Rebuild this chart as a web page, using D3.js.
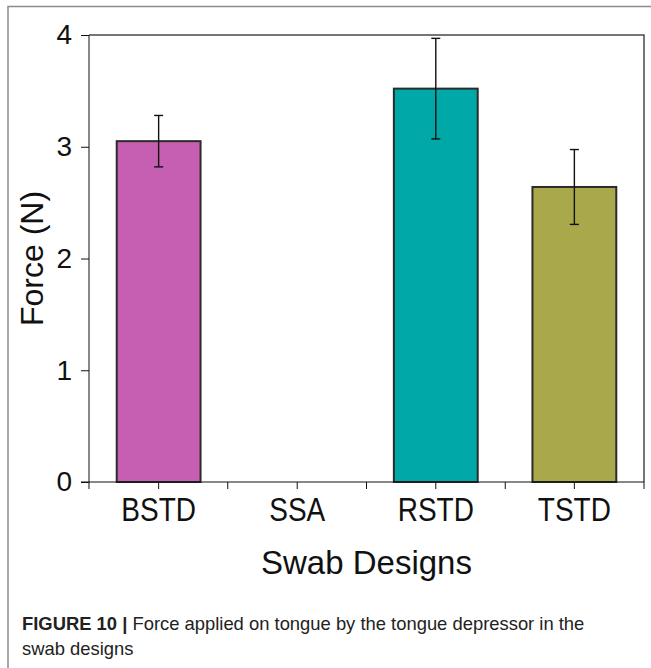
<!DOCTYPE html>
<html>
<head>
<meta charset="utf-8">
<script src="https://cdn.jsdelivr.net/npm/d3@7"></script>
<style>
  body { margin: 0; background: #fff; }
  svg { display: block; font-family: "Liberation Sans", Arial, sans-serif; }
</style>
</head>
<body>
<div id="chart"></div>
<script>
var designs = ["BSTD", "SSA", "RSTD", "TSTD"];
var force = [3.05, 0, 3.52, 2.64];
var forceErr = [0.23, 0, 0.45, 0.335];
var barColors = ["#c65fb1", "#ffffff", "#00a9a8", "#a9a84b"];
var yTicks = [0, 1, 2, 3, 4];

var width = 651, height = 668;
var margin = {top: 35, right: 7, bottom: 186, left: 89};

var svg = d3.select("#chart").append("svg")
    .attr("width", width)
    .attr("height", height);

// outer figure frame (top + left only)
svg.append("path")
    .attr("d", "M8,668V6.5H651")
    .attr("fill", "none")
    .attr("stroke", "#8a8a8a")
    .attr("stroke-width", 1.5);

var x = d3.scaleBand()
    .domain(designs)
    .range([margin.left, width - margin.right])
    .paddingInner(0.395)
    .paddingOuter(0.2);

var y = d3.scaleLinear()
    .domain([0, 4])
    .range([height - margin.bottom, margin.top]);

var x0 = margin.left, x1 = width - margin.right;
var yb = y(0), yt = y(4);

// plot box top + right
svg.append("path")
    .attr("d", `M${x0},${yt}H${x1}V${yb}`)
    .attr("fill", "none")
    .attr("stroke", "#4a4a4a")
    .attr("stroke-width", 1.5);

var data = designs.map(function(d, i) {
  return {name: d, value: force[i], err: forceErr[i], color: barColors[i]};
}).filter(function(d) { return d.value > 0; });

svg.append("g")
  .selectAll("rect")
  .data(data)
  .enter().append("rect")
    .attr("x", d => x(d.name))
    .attr("y", d => y(d.value))
    .attr("width", x.bandwidth())
    .attr("height", d => y(0) - y(d.value))
    .attr("fill", d => d.color)
    .attr("stroke", "#2b2b2b")
    .attr("stroke-width", 2);

// error bars
var eb = svg.append("g")
    .attr("stroke", "#111")
    .attr("stroke-width", 1.4);

eb.selectAll("line.v")
  .data(data)
  .enter().append("line")
    .attr("class", "v")
    .attr("x1", d => x(d.name) + x.bandwidth() / 2)
    .attr("x2", d => x(d.name) + x.bandwidth() / 2)
    .attr("y1", d => y(d.value + d.err))
    .attr("y2", d => y(d.value - d.err));

eb.selectAll("line.t")
  .data(data)
  .enter().append("line")
    .attr("class", "t")
    .attr("x1", d => x(d.name) + x.bandwidth() / 2 - 4.5)
    .attr("x2", d => x(d.name) + x.bandwidth() / 2 + 4.5)
    .attr("y1", d => y(d.value + d.err))
    .attr("y2", d => y(d.value + d.err));

eb.selectAll("line.b")
  .data(data)
  .enter().append("line")
    .attr("class", "b")
    .attr("x1", d => x(d.name) + x.bandwidth() / 2 - 4.5)
    .attr("x2", d => x(d.name) + x.bandwidth() / 2 + 4.5)
    .attr("y1", d => y(d.value - d.err))
    .attr("y2", d => y(d.value - d.err));

// y axis
var yAxis = svg.append("g")
    .attr("transform", `translate(${x0},0)`)
    .call(d3.axisLeft(y).tickValues(yTicks).tickFormat(d3.format("d")).tickSize(8).tickPadding(9));
yAxis.select(".domain").attr("stroke", "#111").attr("d", `M0,${yb}V${yt}`);
yAxis.selectAll("line").attr("stroke", "#111");
yAxis.selectAll("text")
    .attr("font-size", 28)
    .attr("font-family", "Liberation Sans, Arial, sans-serif")
    .attr("fill", "#111");

// x axis
var bounds = d3.range(designs.length + 1).map(i => x0 + i * (x1 - x0) / designs.length);
var xAxis = svg.append("g")
    .attr("transform", `translate(0,${yb})`);
xAxis.append("line")
    .attr("x1", x0 - 8).attr("x2", x1)
    .attr("stroke", "#111");
xAxis.selectAll("line.bt")
  .data(bounds)
  .enter().append("line")
    .attr("class", "bt")
    .attr("x1", d => d).attr("x2", d => d)
    .attr("y1", 0).attr("y2", 7)
    .attr("stroke", "#111");
xAxis.selectAll("line.ct")
  .data(designs)
  .enter().append("line")
    .attr("class", "ct")
    .attr("x1", d => x(d) + x.bandwidth() / 2).attr("x2", d => x(d) + x.bandwidth() / 2)
    .attr("y1", 0).attr("y2", 7)
    .attr("stroke", "#111");
// labels are drawn a bit taller than wide, like the source
xAxis.selectAll("text")
  .data(designs)
  .enter().append("text")
    .attr("transform", d => `translate(${x(d) + x.bandwidth() / 2},39) scale(1,1.18)`)
    .attr("text-anchor", "middle")
    .attr("font-size", 28)
    .attr("fill", "#111")
    .text(d => d);

// axis titles
svg.append("text")
    .attr("transform", `translate(43,${(yb + yt) / 2}) rotate(-90)`)
    .attr("text-anchor", "middle")
    .attr("font-size", 32)
    .attr("fill", "#111")
    .text("Force (N)");

svg.append("text")
    .attr("x", (x0 + x1) / 2)
    .attr("y", 574)
    .attr("text-anchor", "middle")
    .attr("font-size", 33)
    .attr("fill", "#111")
    .text("Swab Designs");

// caption
var cap = svg.append("text")
    .attr("x", 22)
    .attr("y", 630)
    .attr("font-size", 18.4)
    .attr("fill", "#222");
cap.append("tspan").attr("font-weight", "bold").text("FIGURE 10 | ");
cap.append("tspan").text("Force applied on tongue by the tongue depressor in the");
svg.append("text")
    .attr("x", 22)
    .attr("y", 655)
    .attr("font-size", 18.4)
    .attr("fill", "#222")
    .text("swab designs");
</script>
</body>
</html>
